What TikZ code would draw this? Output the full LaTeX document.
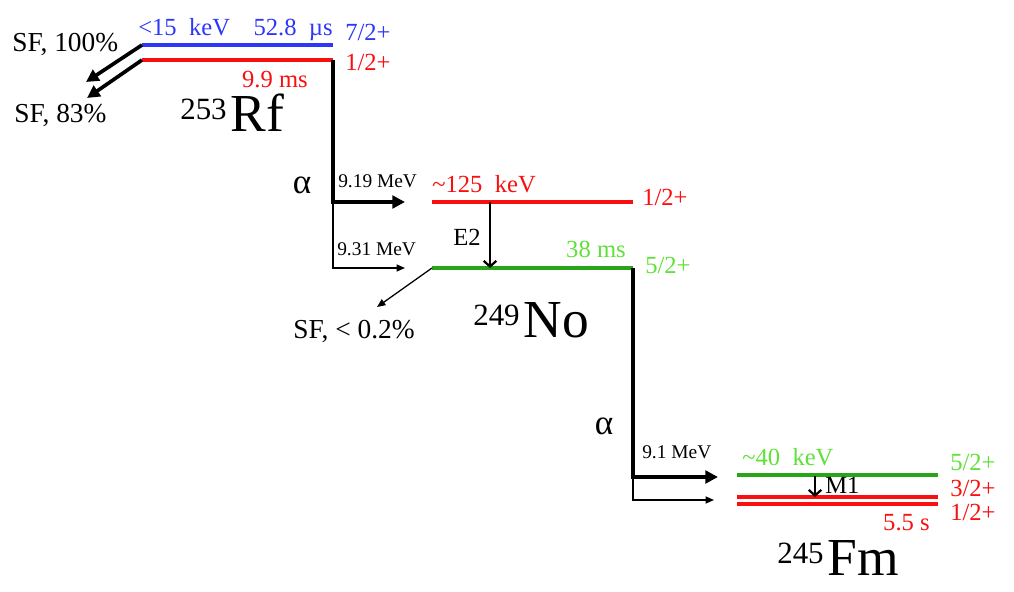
\documentclass[tikz,border=0pt]{standalone}
\usepackage{fontspec}
\setmainfont{Liberation Serif}
\usetikzlibrary{arrows.meta, positioning}
\definecolor{LevelBlue}{RGB}{45,55,250}
\definecolor{LevelRed}{RGB}{250,15,15}
\definecolor{LevelGreen}{RGB}{40,165,25}
\definecolor{LabelGreen}{RGB}{95,225,55}
\tikzstyle{level} = [line width=2.8pt]
\tikzstyle{decay} = [line width=2.6pt, -{Triangle[length=9pt,width=9pt]}]
\tikzstyle{feed} = [line width=0.9pt, -{Triangle[length=6pt,width=5pt]}]
\tikzstyle{gam} = [line width=1.6pt, -{Straight Barb[length=4pt,width=9pt]}]
\tikzstyle{lbl} = [inner sep=0pt, font=\fontsize{17.5}{19}\selectfont]
\tikzstyle{sflbl} = [inner sep=0pt, font=\fontsize{19.5}{21}\selectfont]
\tikzstyle{small} = [inner sep=0pt, font=\fontsize{13.8}{15}\selectfont]
\tikzstyle{alph} = [inner sep=0pt, font=\fontsize{25}{26}\selectfont]
\newcommand{\nucl}[2]{{\fontsize{22}{24}\selectfont\raisebox{8.5pt}{#1}}\kern3pt{\fontsize{38}{40}\selectfont #2}}

\begin{document}
\begin{tikzpicture}[x=0.025cm, y=-0.025cm]
\useasboundingbox (0,0) rectangle (1014,592);

% 253Rf
\coordinate (rf7l) at (142,45);
\coordinate (rf7r) at (333,45);
\coordinate (rf1l) at (142,60);
\coordinate (rf1r) at (333,60);
\draw[level, LevelBlue] (rf7l) -- (rf7r);
\draw[level, LevelRed] (rf1l) -- (rf1r);
\node[lbl, LevelBlue, anchor=base west] (rfE) at (138,35) {<15\ \ keV};
\node[lbl, LevelBlue, anchor=base east] (rfT7) at (333,35) {52.8\ \ µs};
\node[lbl, LevelBlue, anchor=base west] (rfJ7) at (345,40) {7/2+};
\node[lbl, LevelRed, anchor=base west] (rfJ1) at (345,70) {1/2+};
\node[lbl, LevelRed, anchor=base east] (rfT1) at (308,87) {9.9 ms};
\node[sflbl, anchor=base west] (sf100) at (12,51) {SF, 100\%};
\node[sflbl, anchor=base west] (sf83) at (14,122) {SF, 83\%};
\coordinate (sf100end) at (86,82);
\coordinate (sf83end) at (87,98);
\draw[decay] (rf7l) -- (sf100end);
\draw[decay] (rf1l) -- (sf83end);
\node[inner sep=0pt, anchor=base west] (rf) at (180,131) {\nucl{253}{Rf}};

% alpha to 249No
\coordinate (rfa) at (333,202);
\coordinate (rfb) at (333,268);
\coordinate (no1arr) at (405,202);
\coordinate (no5arr) at (405,268);
\draw[decay] (rf1r) -- (rfa) -- (no1arr);
\draw[feed] (rfa) -- (rfb) -- (no5arr);
\node[alph] (a1) at (302,185) {α};
\node[small, anchor=base west] (e919) at (338,187) {9.19 MeV};
\node[small, anchor=base west] (e931) at (337,255) {9.31 MeV};

% 249No
\coordinate (no1l) at (432,202);
\coordinate (no1r) at (633,202);
\coordinate (no5l) at (432,268);
\coordinate (no5r) at (633,268);
\draw[level, LevelRed] (no1l) -- (no1r);
\draw[level, LevelGreen] (no5l) -- (no5r);
\node[lbl, LevelRed, anchor=base west] (noE) at (432,192) {\textasciitilde125\ \ keV};
\node[lbl, LevelRed, anchor=base west] (noJ1) at (642,205) {1/2+};
\node[lbl, LabelGreen, anchor=base east] (noT5) at (626,257) {38 ms};
\node[lbl, LabelGreen, anchor=base west] (noJ5) at (645,273) {5/2+};
\coordinate (e2top) at (490,202);
\coordinate (e2bot) at (490,268);
\draw[gam] (e2top) -- (e2bot);
\node[lbl, anchor=base west] (e2) at (453,245) {E2};
\coordinate (sfNoEnd) at (377,307);
\draw[feed] (no5l) -- (sfNoEnd);
\node[sflbl, anchor=base west] (sfNo) at (293,338) {SF, < 0.2\%};
\node[inner sep=0pt, anchor=base west] (no) at (473,337) {\nucl{249}{No}};

% alpha to 245Fm
\coordinate (noa) at (633,477);
\coordinate (nob) at (633,500);
\coordinate (fm5arr) at (718,477);
\coordinate (fm1arr) at (714,500);
\draw[decay] (no5r) -- (noa) -- (fm5arr);
\draw[feed] (noa) -- (nob) -- (fm1arr);
\node[alph] (a2) at (604,426) {α};
\node[small, anchor=base west] (e91) at (642,458) {9.1 MeV};

% 245Fm
\coordinate (fm5l) at (737,475);
\coordinate (fm5r) at (938,475);
\coordinate (fm3l) at (737,497);
\coordinate (fm3r) at (938,497);
\coordinate (fm1l) at (737,504);
\coordinate (fm1r) at (938,504);
\draw[level, LevelGreen] (fm5l) -- (fm5r);
\draw[level, LevelRed, line width=2.5pt] (fm3l) -- (fm3r);
\draw[level, LevelRed, line width=2.5pt] (fm1l) -- (fm1r);
\node[lbl, LabelGreen, anchor=base west] (fmE) at (742,465) {\textasciitilde40\ \ keV};
\node[lbl, LabelGreen, anchor=base west] (fmJ5) at (950,470) {5/2+};
\node[lbl, LevelRed, anchor=base west] (fmJ3) at (950,496) {3/2+};
\node[lbl, LevelRed, anchor=base west] (fmJ1) at (950,520) {1/2+};
\node[lbl, LevelRed, anchor=base east] (fmT1) at (930,530) {5.5 s};
\coordinate (m1top) at (815,476);
\coordinate (m1bot) at (815,497);
\draw[gam] (m1top) -- (m1bot);
\node[lbl, anchor=base west] (m1) at (825,493) {M1};
\node[inner sep=0pt, anchor=base west] (fm) at (777,575) {\nucl{245}{Fm}};
\end{tikzpicture}
\end{document}
